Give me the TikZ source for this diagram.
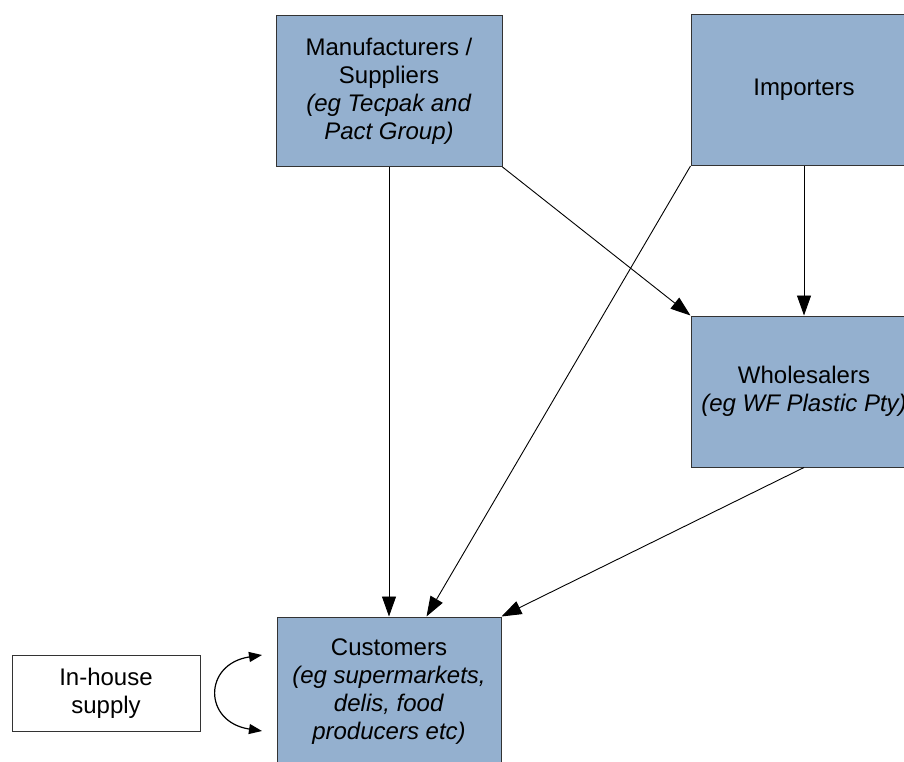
\documentclass[tikz,border=0pt]{standalone}
\usepackage{fontspec}
\setmainfont{Liberation Sans}
\usetikzlibrary{arrows.meta}
\definecolor{boxblue}{RGB}{148,176,207}
\definecolor{boxline}{RGB}{51,51,51}
\tikzset{
  bluebox/.style={rectangle, draw=boxline, line width=1pt, fill=boxblue, minimum width=226pt, minimum height=151pt, inner sep=0pt, align=center, font=\fontsize{24pt}{28pt}\selectfont},
  plainbox/.style={rectangle, draw=boxline, line width=1pt, fill=white, minimum width=188pt, minimum height=76pt, inner sep=0pt, align=center, font=\fontsize{24pt}{28pt}\selectfont},
  flow/.style={draw=black, line width=0.9pt, -{Triangle[length=20pt,width=14pt]}},
  loopflow/.style={draw=black, line width=1.2pt, {Triangle[length=13pt,width=10pt]}-{Triangle[length=13pt,width=10pt]}}
}
\begin{document}
\begin{tikzpicture}[x=1pt,y=-1pt]
\useasboundingbox (0,0) rectangle (904,762);
\clip (0,0) rectangle (904,762);
\fill[white] (0,0) rectangle (904,762);
\node[bluebox] (manu) at (389,91) {Manufacturers /\\Suppliers\\\textit{(eg Tecpak and}\\\textit{Pact Group)}};
\node[bluebox] (imp) at (804,90) {Importers};
\node[bluebox] (whole) at (804,391.5) {Wholesalers\\\textit{(eg WF Plastic Pty)}};
\node[bluebox, minimum width=224pt, minimum height=150pt] (cust) at (389,692) {Customers\\\textit{(eg supermarkets,}\\\textit{delis, food}\\\textit{producers etc)}};
\node[plainbox] (inh) at (106,693) {In-house\\supply};
\draw[flow] (manu.south) -- (cust.north);
\draw[flow] (manu.south east) -- (whole.north west);
\draw[flow] (imp.south) -- (whole.north);
\draw[flow] (imp.south west) -- ([xshift=150pt]cust.north west);
\draw[flow] (whole.south) -- (cust.north east);
\coordinate (l1) at (262,655);
\coordinate (l2) at (262,731);
\draw[loopflow] (l1) .. controls (203,664) and (203,722) .. (l2);
\end{tikzpicture}
\end{document}
